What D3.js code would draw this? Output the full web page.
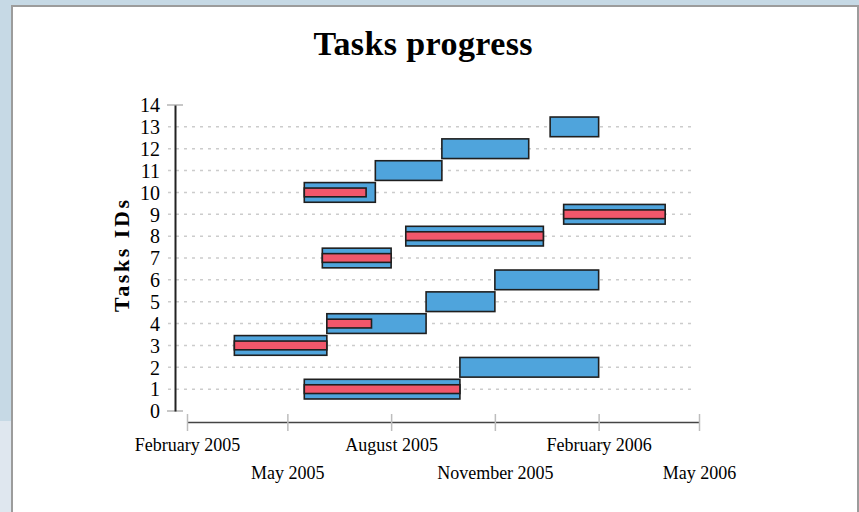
<!DOCTYPE html>
<html>
<head>
<meta charset="utf-8">
<script src="https://cdn.jsdelivr.net/npm/d3@7"></script>
<style>
  html, body { margin: 0; padding: 0; background: #c6d9e5; }
  svg { display: block; }
</style>
</head>
<body>
<svg id="chart" width="859" height="512"></svg>
<script>
// ---------- data ----------
const taskIds = [1, 2, 3, 4, 5, 6, 7, 8, 9, 10, 11, 12, 13];
const taskStarts = ["2005-05-16","2005-10-01","2005-03-15","2005-06-05","2005-09-01","2005-11-01","2005-06-01","2005-08-14","2006-01-01","2005-05-16","2005-07-18","2005-09-15","2005-12-20"];
const taskEnds   = ["2005-10-01","2006-02-01","2005-06-05","2005-09-01","2005-11-01","2006-02-01","2005-08-01","2005-12-14","2006-04-01","2005-07-18","2005-09-15","2005-12-01","2006-02-01"];
const taskProgress = [1, 0, 1, 0.45, 0, 0, 1, 1, 1, 0.87, 0, 0, 0];
const xTickDates = ["2005-02-01","2005-05-01","2005-08-01","2005-11-01","2006-02-01","2006-05-01"];
const xTickLabels = ["February 2005","May 2005","August 2005","November 2005","February 2006","May 2006"];
const yTicks = [0,1,2,3,4,5,6,7,8,9,10,11,12,13,14];
const titleText = "Tasks progress";
const yTitle = "Tasks IDs";

const parse = d3.utcParse("%Y-%m-%d");
const svg = d3.select("#chart");
const font = "'Liberation Serif', 'DejaVu Serif', serif";

// ---------- background / panel ----------
svg.append("rect").attr("x",0).attr("y",0).attr("width",859).attr("height",512).attr("fill","#c6d9e5");
svg.append("rect").attr("x",0).attr("y",421).attr("width",12).attr("height",91).attr("fill","#dfe7ef");
svg.append("rect").attr("x",11).attr("y",5).attr("width",848).attr("height",507).attr("fill","#9c9c9c");
svg.append("rect").attr("x",13).attr("y",7).attr("width",844).attr("height",505).attr("fill","#ffffff");

// ---------- scales ----------
const x = d3.scaleUtc()
  .domain([parse(xTickDates[0]), parse(xTickDates[xTickDates.length-1])])
  .range([187, 699]);
const y = d3.scaleLinear().domain([0, 14]).range([411, 105]);

// ---------- title ----------
svg.append("text")
  .attr("x", 423).attr("y", 55)
  .attr("text-anchor","middle")
  .attr("font-family", font).attr("font-weight","bold").attr("font-size", 34)
  .attr("textLength", 219).attr("lengthAdjust","spacing")
  .attr("fill","#000")
  .text(titleText);

// ---------- y axis title ----------
svg.append("text")
  .attr("transform","translate(129,256) rotate(-90)")
  .attr("text-anchor","middle")
  .attr("font-family", font).attr("font-weight","bold").attr("font-size", 22)
  .attr("textLength", 112).attr("lengthAdjust","spacing")
  .attr("fill","#000")
  .text(yTitle);

// ---------- grid lines ----------
const grid = svg.append("g");
grid.selectAll("line.grid")
  .data(yTicks.filter(v => v > 0 && v < 14))
  .join("line")
  .attr("x1", 168).attr("x2", 696)
  .attr("y1", d => y(d)).attr("y2", d => y(d))
  .attr("stroke", "#cccccc").attr("stroke-width", 1.5)
  .attr("stroke-dasharray", "3,5");

// end ticks of y axis (solid)
grid.selectAll("line.endtick")
  .data([0, 14])
  .join("line")
  .attr("x1", 167).attr("x2", 183)
  .attr("y1", d => y(d)).attr("y2", d => y(d))
  .attr("stroke", "#b5b5b5").attr("stroke-width", 1.5);

// ---------- y axis ----------
const yAxis = d3.axisLeft(y).tickValues(yTicks).tickSize(0).tickPadding(0);
const yg = svg.append("g").attr("transform","translate(175,0)").call(yAxis);
yg.select(".domain").attr("stroke","#222").attr("stroke-width",2);
yg.selectAll(".tick text")
  .attr("x", -15).attr("dy", "0.34em")
  .attr("font-family", font).attr("font-size", 20).attr("fill","#000");

// ---------- x axis ----------
const xAxis = d3.axisBottom(x)
  .tickValues(xTickDates.map(parse))
  .tickSize(0)
  .tickFormat((d, i) => xTickLabels[i]);
const xg = svg.append("g").attr("transform","translate(0,422)").call(xAxis);
xg.select(".domain").attr("stroke","#444").attr("stroke-width",1.5);
xg.selectAll(".tick line").remove();
xg.selectAll(".tick").append("line")
  .attr("y1", -8).attr("y2", 9)
  .attr("stroke", "#bdbdbd").attr("stroke-width", 1.5);
xg.selectAll(".tick text")
  .attr("y", (d, i) => i % 2 === 0 ? 29 : 57)
  .attr("dy", 0)
  .attr("font-family", font).attr("font-size", 18).attr("fill","#000");

// ---------- bars ----------
const tasks = taskIds.map((id, i) => ({
  id, start: parse(taskStarts[i]), end: parse(taskEnds[i]), p: taskProgress[i]
}));
const bars = svg.append("g");
bars.selectAll("rect.task")
  .data(tasks)
  .join("rect")
  .attr("x", d => x(d.start))
  .attr("width", d => x(d.end) - x(d.start))
  .attr("y", d => y(d.id + 0.45))
  .attr("height", d => y(d.id - 0.45) - y(d.id + 0.45))
  .attr("fill", "#4fa4dc").attr("stroke", "#1f1f1f").attr("stroke-width", 1.6);
bars.selectAll("rect.prog")
  .data(tasks.filter(d => d.p > 0))
  .join("rect")
  .attr("x", d => x(d.start))
  .attr("width", d => (x(d.end) - x(d.start)) * d.p)
  .attr("y", d => y(d.id + 0.2))
  .attr("height", d => y(d.id - 0.2) - y(d.id + 0.2))
  .attr("fill", "#f1576b").attr("stroke", "#1f1f1f").attr("stroke-width", 1.6);
</script>
</body>
</html>
